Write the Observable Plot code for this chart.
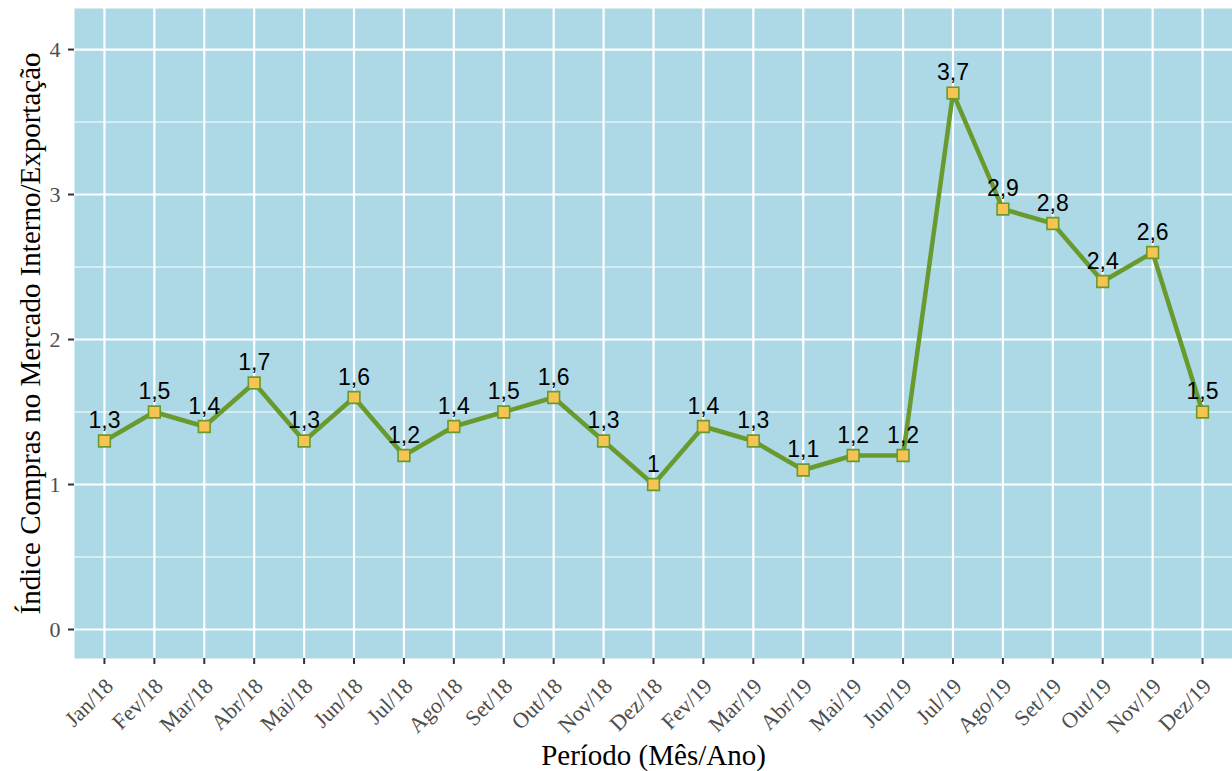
<!DOCTYPE html>
<html>
<head>
<meta charset="utf-8">
<script src="https://cdn.jsdelivr.net/npm/d3@7"></script>
<script src="https://cdn.jsdelivr.net/npm/@observablehq/plot@0.6"></script>
<style>
  html, body { margin: 0; padding: 0; background: #fff; }
  #chart svg { display: block; }
</style>
</head>
<body>
<div id="chart"></div>
<script>
const xLabels = ["Jan/18","Fev/18","Mar/18","Abr/18","Mai/18","Jun/18","Jul/18","Ago/18","Set/18","Out/18","Nov/18","Dez/18",
                 "Fev/19","Mar/19","Abr/19","Mai/19","Jun/19","Jul/19","Ago/19","Set/19","Out/19","Nov/19","Dez/19"];
const values = [1.3,1.5,1.4,1.7,1.3,1.6,1.2,1.4,1.5,1.6,1.3,1.0,
                1.4,1.3,1.1,1.2,1.2,3.7,2.9,2.8,2.4,2.6,1.5];
const yTicks = [0,1,2,3,4];
const yMinor = [0.5,1.5,2.5,3.5];
const xTitle = "Período (Mês/Ano)";
const yTitle = "Índice Compras no Mercado Interno/Exportação";

const data = xLabels.map((p, i) => ({periodo: p, valor: values[i], label: String(values[i]).replace(".", ",")}));

const serif = "'Liberation Serif', 'DejaVu Serif', serif";
const sans = "'Liberation Sans', Arial, sans-serif";

const chart = Plot.plot({
  width: 1232,
  height: 771,
  marginLeft: 74,
  marginRight: 0,
  marginTop: 8,
  marginBottom: 113,
  style: {fontFamily: serif, background: "#fff"},
  x: {type: "point", domain: xLabels, padding: 0.6, align: 0.5, round: false},
  y: {domain: [-0.2, 4.283]},
  marks: [
    Plot.frame({fill: "#ADD8E6", stroke: null}),
    Plot.gridY(yMinor, {stroke: "#fff", strokeOpacity: 1, strokeWidth: 1.1}),
    Plot.gridY(yTicks, {stroke: "#fff", strokeOpacity: 1, strokeWidth: 2.2}),
    Plot.gridX(xLabels, {stroke: "#fff", strokeOpacity: 1, strokeWidth: 2.2}),
    Plot.axisY(yTicks, {tickSize: 6, stroke: "#333", strokeWidth: 2, tickFormat: () => "", label: null}),
    Plot.axisX(xLabels, {tickSize: 6, stroke: "#333", strokeWidth: 2, tickFormat: () => "", label: null}),
    // y tick labels
    Plot.text(yTicks, {y: d => d, text: d => String(d), frameAnchor: "left", textAnchor: "end", dx: -14,
      fontSize: 22, fill: "#4d4d4d", fontFamily: serif}),
    // x tick labels
    Plot.text(xLabels, {x: d => d, text: d => d, frameAnchor: "bottom", textAnchor: "end", lineAnchor: "middle",
      rotate: -45, dx: 5, dy: 24, fontSize: 22, fill: "#4d4d4d", fontFamily: serif}),
    // axis titles
    Plot.text([xTitle], {text: d => d, frameAnchor: "bottom", textAnchor: "middle", lineAnchor: "middle", dy: 97, fontSize: 29, fill: "#000", fontFamily: serif}),
    Plot.text([yTitle], {text: d => d, frameAnchor: "left", textAnchor: "middle", rotate: -90, lineAnchor: "middle", dx: -44, fontSize: 29, fill: "#000", fontFamily: serif}),
    // data
    Plot.line(data, {x: "periodo", y: "valor", stroke: "#699A2E", strokeWidth: 4.5}),
    Plot.dot(data, {x: "periodo", y: "valor", symbol: "square", r: 6.6, fill: "#F6C453", stroke: "#699A2E", strokeWidth: 1.6}),
    Plot.text(data, {x: "periodo", y: "valor", text: "label", lineAnchor: "bottom", dy: -13, fontSize: 23, fontFamily: sans, fill: "#000"})
  ]
});

document.getElementById("chart").appendChild(chart);
</script>
</body>
</html>
